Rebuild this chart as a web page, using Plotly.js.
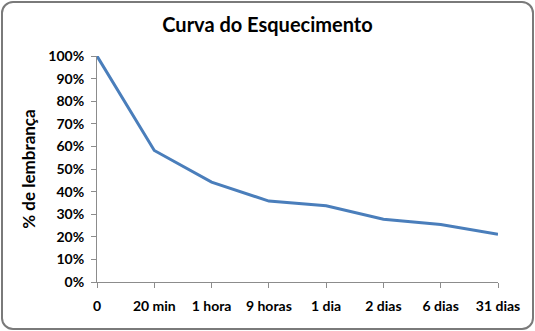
<!DOCTYPE html>
<html>
<head>
<meta charset="utf-8">
<script src="https://cdn.plot.ly/plotly-3.0.1.min.js"></script>
<style>
  html, body { margin: 0; padding: 0; background: #ffffff; }
  #wrap { position: relative; width: 535px; height: 331px; }
  #chart { position: absolute; left: 0; top: 0; width: 535px; height: 331px; }
  #frame {
    position: absolute; left: 1px; top: 1px; width: 533px; height: 329px;
    box-sizing: border-box; border: 2px solid #7a7a7a; border-radius: 12px;
    pointer-events: none;
  }
</style>
</head>
<body>
<div id="wrap">
  <div id="chart"></div>
  <div id="frame"></div>
</div>
<script>
// Intervals after learning and the share of material still remembered
const intervals = ['0', '20 min', '1 hora', '9 horas', '1 dia', '2 dias', '6 dias', '31 dias'];
const retention = [1.00, 0.582, 0.442, 0.358, 0.337, 0.278, 0.254, 0.211];
const yTicks = [0, 0.1, 0.2, 0.3, 0.4, 0.5, 0.6, 0.7, 0.8, 0.9, 1.0];
const yTickText = ['0%', '10%', '20%', '30%', '40%', '50%', '60%', '70%', '80%', '90%', '100%'];

const font = 'Lato, "Open Sans", sans-serif';

const trace = {
  x: intervals,
  y: retention,
  type: 'scatter',
  mode: 'lines',
  line: { color: '#4a7ebb', width: 3 },
  cliponaxis: false,
  hoverinfo: 'skip'
};

const layout = {
  width: 535,
  height: 331,
  margin: { l: 97, r: 37, t: 56, b: 49 },
  paper_bgcolor: '#ffffff',
  plot_bgcolor: '#ffffff',
  showlegend: false,
  title: {
    text: '<b>Curva do Esquecimento</b>',
    font: { family: font, size: 20, color: '#000000' },
    x: 0.5, xanchor: 'center',
    y: 0.925, yanchor: 'middle', yref: 'container'
  },
  xaxis: {
    type: 'category',
    range: [0, intervals.length - 1],
    showgrid: false,
    zeroline: false,
    showline: true,
    linecolor: '#8c8c8c',
    linewidth: 1,
    ticks: 'outside',
    ticklen: 5,
    tickcolor: '#8c8c8c',
    ticklabelstandoff: 6,
    tickfont: { family: font, size: 14, color: '#000000', weight: 'bold' },
    fixedrange: true
  },
  yaxis: {
    range: [0, 1],
    tickvals: yTicks,
    ticktext: yTickText,
    showgrid: false,
    zeroline: false,
    showline: true,
    linecolor: '#8c8c8c',
    linewidth: 1,
    ticks: 'outside',
    ticklen: 5,
    tickcolor: '#8c8c8c',
    ticklabelstandoff: 4,
    tickfont: { family: font, size: 14, color: '#000000', weight: 'bold' },
    title: {
      text: '<b>% de lembrança</b>',
      font: { family: font, size: 17, color: '#000000' },
      standoff: 8
    },
    fixedrange: true
  }
};

Plotly.newPlot('chart', [trace], layout, { displayModeBar: false, staticPlot: true });
</script>
</body>
</html>
